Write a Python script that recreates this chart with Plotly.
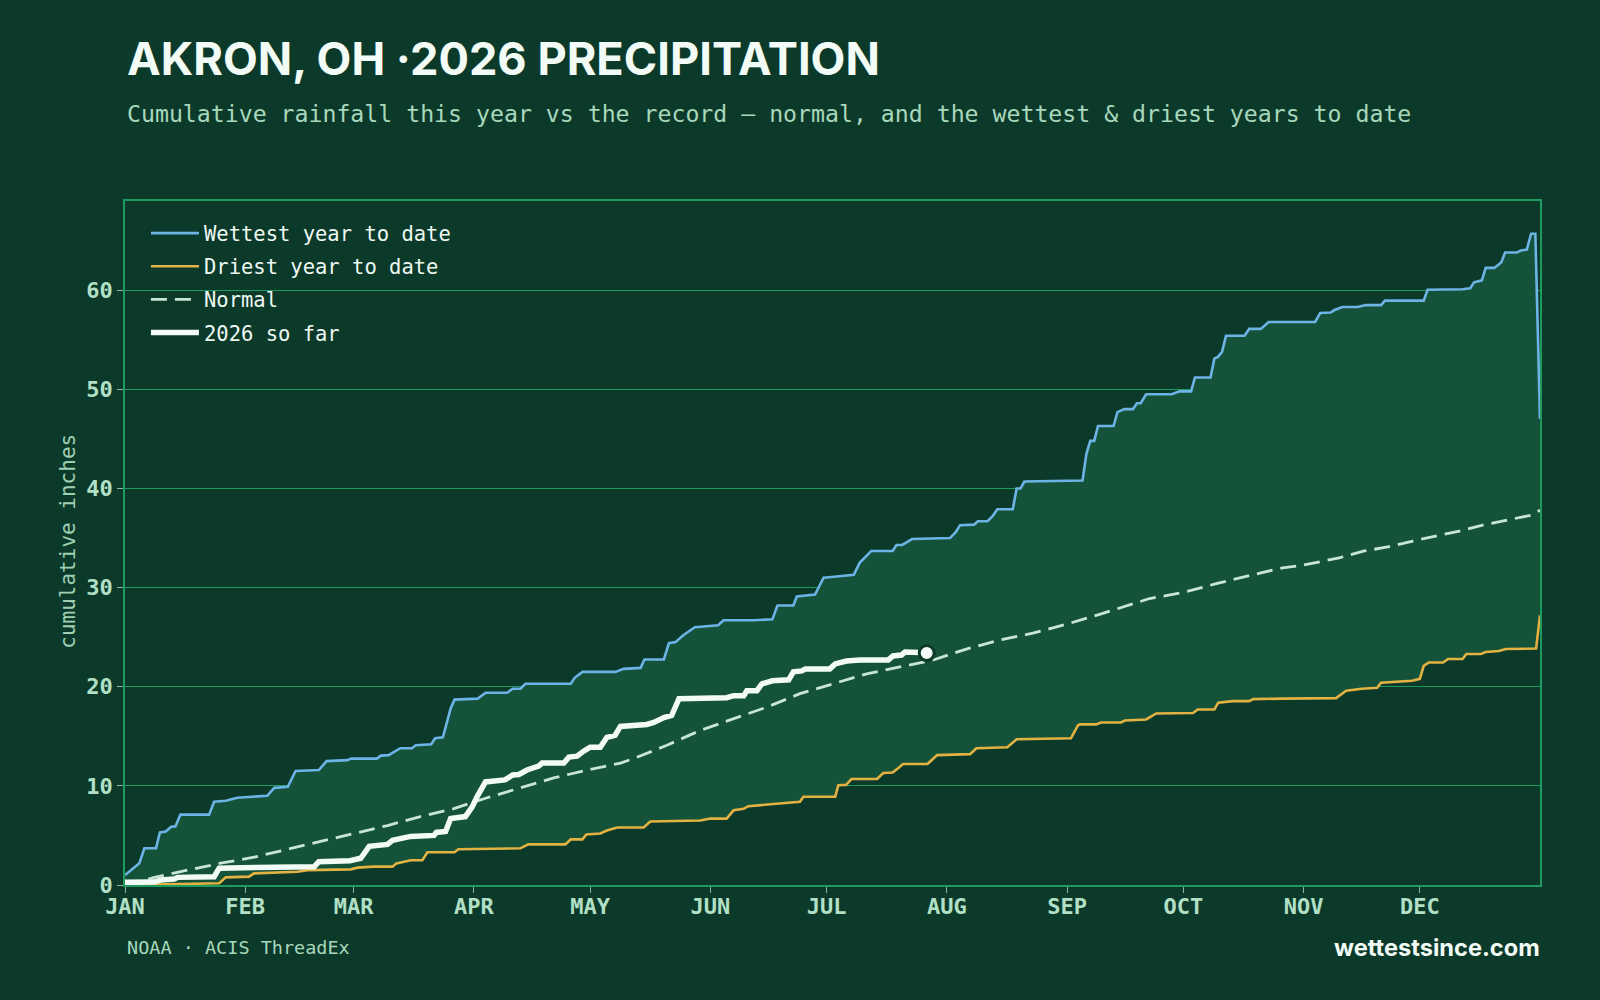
import plotly.graph_objects as go

# ---------------- data (day of year from Jan 1, cumulative inches) ----------------
wet_days = [0, 2, 3.7, 5, 8, 9, 10.5, 12, 13, 14.3, 21.7, 23, 26, 29, 32, 36.7, 38.5, 42, 44, 50,
            52, 57.4, 58.3, 65, 66, 68, 71, 74, 75, 79, 80, 82, 84, 85, 88, 91, 93, 98.6, 100, 102,
            103.3, 115, 116, 118, 126.5, 128.6, 133, 134, 139, 140.3, 142, 144, 147, 153, 154.4, 162,
            167, 168.3, 172.4, 173.3, 178, 180.2, 183, 188, 189.5, 192.5, 198, 199, 200.5, 203, 212.8,
            214.3, 215.4, 219, 220, 222.5, 223.8, 225, 229, 230, 231, 232, 247, 248, 249, 250, 251,
            255, 256, 257.8, 260, 261, 262, 263.4, 270, 272, 275, 276, 280, 281, 282, 283, 284, 288.8,
            290, 293, 295, 307, 308.3, 311, 312, 314, 318, 320, 324, 325, 335, 336, 345, 347, 348,
            350, 351, 353.2, 355, 356, 359, 360, 361.6, 362.7, 363.8, 365]
wet_vals = [1.0, 1.6, 2.2, 3.7, 3.7, 5.3, 5.4, 5.9, 5.9, 7.1, 7.1, 8.4, 8.5, 8.8, 8.9, 9.0, 9.8, 9.9, 11.5, 11.6,
            12.5, 12.6, 12.75, 12.75, 13.05, 13.1, 13.8, 13.8, 14.1, 14.2, 14.8, 14.9, 17.8, 18.7, 18.75, 18.8, 19.4, 19.4, 19.8, 19.8,
            20.3, 20.3, 20.9, 21.5, 21.5, 21.8, 21.9, 22.75, 22.75, 24.4, 24.5, 25.2, 26.0, 26.2, 26.7, 26.7,
            26.8, 28.2, 28.2, 29.1, 29.3, 31.0, 31.1, 31.3, 32.5, 33.7, 33.7, 34.3, 34.3, 34.9, 35.0,
            35.6, 36.3, 36.35, 36.7, 36.7, 37.2, 37.9, 37.9, 40.0, 40.0, 40.7, 40.8, 43.5, 44.8, 44.8, 46.3,
            46.3, 47.7, 48.0, 48.0, 48.6, 48.6, 49.5, 49.5, 49.8, 49.8, 51.2, 51.2, 53.1, 53.3, 53.8, 55.4, 55.4,
            56.1, 56.1, 56.8, 56.8, 57.7, 57.75, 58.0, 58.3, 58.3, 58.5, 58.5, 58.95, 58.95, 60.05, 60.1, 60.2, 60.8,
            61.0, 62.25, 62.25, 62.8, 63.8, 63.8, 64.0, 64.1, 65.7, 65.7, 47.0]

dry_days = [0, 10, 24.3, 26, 32, 33.3, 44.5, 47, 58.2, 60, 64, 69, 70, 72, 73.7, 76.7, 78, 85, 86, 102,
            104, 113.6, 115, 118, 119, 122.6, 124.3, 127, 133.8, 135.5, 148.4, 151, 155.2, 157, 159.6,
            160.8, 168, 174.1, 175, 183.2, 184, 186, 187.4, 194, 195.6, 198, 199.5, 200.7, 207, 209.5,
            218, 219.6, 227.6, 229, 230, 244, 245.8, 246.3, 250.5, 251.8, 257, 257.9, 263.4, 266, 275.5,
            276.7, 281, 282, 285.7, 290, 291, 298.6, 312.4, 315, 319, 323, 324, 332, 334, 335, 336.3,
            340, 341.3, 345, 346, 349.8, 351, 354.4, 356.2, 364, 365]
dry_vals = [0.0, 0.1, 0.17, 0.77, 0.84, 1.17, 1.34, 1.5, 1.58, 1.75, 1.85, 1.85, 2.18, 2.35, 2.5, 2.5, 3.3, 3.3, 3.6, 3.7,
            4.1, 4.1, 4.6, 4.6, 5.1, 5.2, 5.5, 5.8, 5.8, 6.4, 6.5, 6.7, 6.7, 7.55, 7.7,
            7.95, 8.2, 8.4, 8.9, 8.9, 10.07, 10.1, 10.7, 10.7, 11.3, 11.35, 11.8, 12.2, 12.2, 13.1,
            13.2, 13.8, 13.9, 14.4, 14.7, 14.8, 16.1, 16.2, 16.2, 16.4, 16.4, 16.6, 16.7, 17.3, 17.35,
            17.7, 17.7, 18.4, 18.55, 18.55, 18.75, 18.8, 18.85, 19.6, 19.8, 19.9, 20.4, 20.6, 20.8, 22.1, 22.45,
            22.45, 22.8, 22.8, 23.3, 23.3, 23.5, 23.6, 23.8, 23.85, 27.2]

norm_days = [0, 7.6, 16.1, 24.7, 33.3, 41.9, 50.5, 59, 67.7, 76.2, 84.8, 93.4, 102, 110.6, 119.2, 127.8,
             131.2, 139.8, 148.4, 157, 165.6, 174.1, 182.7, 191.3, 199.9, 208.5, 217, 225.6, 234.2,
             242.8, 251.4, 255.7, 264.3, 272.9, 281.5, 290, 298.6, 303, 313.2, 319.7, 325.7, 332.2,
             338.2, 344.2, 350.2, 356.6, 362.6, 365]
norm_vals = [0.0, 0.77, 1.5, 2.2, 2.8, 3.6, 4.4, 5.2, 6.0, 6.9, 7.7, 8.8, 9.8, 10.8, 11.6, 12.3,
             12.75, 14.1, 15.6, 16.8, 17.95, 19.3, 20.3, 21.3, 22.0, 22.7, 23.8, 24.7, 25.4,
             26.3, 27.3, 27.85, 28.9, 29.5, 30.4, 31.2, 32.0, 32.2, 33.0, 33.7, 34.1, 34.7,
             35.2, 35.7, 36.3, 36.8, 37.3, 37.8]

cur_days = [0, 7.5, 9.3, 12.7, 13.6, 23, 24.3, 48.8, 50, 58, 60.8, 63, 67.7, 69, 73.7, 79.7, 80.3, 82.7,
            84, 87.8, 89.6, 90.8, 93, 98, 100, 101.6, 103.7, 106.7, 107.6, 113.2, 114.5, 116.6, 118.3,
            120, 122.6, 124.3, 126.4, 127.8, 134.6, 136.4, 139, 141, 142.9, 155.2, 157, 159.6, 160.4,
            163, 164.3, 167, 171.2, 172.4, 174.6, 175.5, 181.8, 183.2, 186.1, 189.6, 196.9, 198.1,
            200.3, 201.2, 205, 206.8]
cur_vals = [0.27, 0.3, 0.5, 0.6, 0.77, 0.84, 1.7, 1.85, 2.35, 2.45, 2.7, 3.9, 4.1, 4.5, 4.9, 5.0, 5.3, 5.4,
            6.7, 6.9, 7.9, 8.9, 10.4, 10.6, 11.1, 11.15, 11.6, 12.0, 12.3, 12.3, 12.9, 13.0, 13.5,
            13.9, 13.9, 14.9, 15.1, 16.0, 16.2, 16.4, 16.9, 17.1, 18.8, 18.9, 19.1, 19.1, 19.6,
            19.6, 20.3, 20.6, 20.7, 21.5, 21.6, 21.8, 21.8, 22.3, 22.6, 22.7, 22.7, 23.1,
            23.2, 23.5, 23.45, 23.4]

month_days = [0, 31, 59, 90, 120, 151, 181, 212, 243, 273, 304, 334]
month_labels = ["JAN", "FEB", "MAR", "APR", "MAY", "JUN", "JUL", "AUG", "SEP", "OCT", "NOV", "DEC"]
y_ticks = [0, 10, 20, 30, 40, 50, 60]

# ---------------- style ----------------
BG = "#0c3a2a"
BAND = "#145239"
GRID = "#1f9a5e"
BLUE = "#6db3e6"
GOLD = "#e2b243"
NORMAL = "#c8e6d4"
WHITE = "#f3fbf6"
MINT = "#a8d8bc"
MONO = "DejaVu Sans Mono"
SANS = "Inter, Roboto, 'Open Sans', sans-serif"

fig = go.Figure()

# band between driest and wettest
fig.add_trace(go.Scatter(x=dry_days, y=dry_vals, mode="lines", line=dict(width=0, color=BAND),
                         showlegend=False, hoverinfo="skip", legendgroup="band"))
fig.add_trace(go.Scatter(x=wet_days, y=wet_vals, mode="lines", line=dict(width=0, color=BAND),
                         fill="tonexty", fillcolor=BAND, showlegend=False, hoverinfo="skip",
                         legendgroup="band"))

fig.add_trace(go.Scatter(x=wet_days, y=wet_vals, mode="lines", name="Wettest year to date",
                         legendgroup="g1", line=dict(color=BLUE, width=2.6)))
fig.add_trace(go.Scatter(x=dry_days, y=dry_vals, mode="lines", name="Driest year to date",
                         legendgroup="g2", line=dict(color=GOLD, width=2.6)))
fig.add_trace(go.Scatter(x=norm_days, y=norm_vals, mode="lines", name="Normal",
                         legendgroup="g3", line=dict(color=NORMAL, width=2.8, dash="16px,8px")))
fig.add_trace(go.Scatter(x=cur_days, y=cur_vals, mode="lines", name="2026 so far",
                         legendgroup="g4", line=dict(color=WHITE, width=5.5)))
fig.add_trace(go.Scatter(x=[cur_days[-1]], y=[cur_vals[-1]], mode="markers", showlegend=False,
                         legendgroup="g4",
                         marker=dict(size=15, color=WHITE, line=dict(color=BG, width=3))))

fig.update_layout(
    width=1600, height=1000,
    paper_bgcolor=BG, plot_bgcolor=BG,
    margin=dict(l=125, r=60, t=201, b=115),
    showlegend=True,
    legend=dict(x=0.0148, y=0.982, xanchor="left", yanchor="top", bgcolor="rgba(0,0,0,0)",
                font=dict(family=MONO, size=20.5, color="#eef8f2"), traceorder="grouped",
                tracegroupgap=3.5, itemwidth=48),
    font=dict(family=MONO, color=MINT),
)

fig.update_xaxes(range=[0, 365], tickmode="array", tickvals=month_days, ticktext=month_labels,
                 showgrid=False, zeroline=False, showline=True, mirror=True, linecolor=GRID, linewidth=1.5,
                 ticks="outside", ticklen=6, tickcolor="#8fb3a0", tickwidth=1, ticklabelstandoff=-5,
                 tickfont=dict(family=MONO, size=22, color="#b2e0c6", weight="bold"))
fig.update_yaxes(range=[0, 69], tickmode="array", tickvals=y_ticks,
                 showgrid=True, gridcolor=GRID, gridwidth=1.3, zeroline=False,
                 showline=True, mirror=True, linecolor=GRID, linewidth=1.5,
                 ticks="outside", ticklen=6, tickcolor="#8fb3a0", tickwidth=1,
                 tickfont=dict(family=MONO, size=22, color="#b2e0c6", weight="bold"))

annos = [
    dict(text="<b>AKRON, OH ·2026 PRECIPITATION</b>", x=0, y=1.2088, xanchor="left", yanchor="middle",
         font=dict(family=SANS, size=45.2, color="#f2fbf5")),
    dict(text="Cumulative rainfall this year vs the record — normal, and the wettest & driest years to date",
         x=0, y=1.1279, xanchor="left", yanchor="middle", font=dict(family=MONO, size=23.2, color=MINT)),
    dict(text="cumulative inches", x=-0.0402, y=0.502, textangle=-90, xanchor="center", yanchor="middle",
         font=dict(family=MONO, size=21, color="#9fcfb3")),
    dict(text="NOAA · ACIS ThreadEx", x=0, y=-0.092, xanchor="left", yanchor="middle",
         font=dict(family=MONO, size=18.5, color=MINT)),
    dict(text="<b>wettestsince.com</b>", x=1.0015, y=-0.092, xanchor="right", yanchor="middle",
         font=dict(family=SANS, size=23.6, color="#f2fbf5")),
]
for a in annos:
    a.update(xref="paper", yref="paper", showarrow=False)
fig.update_layout(annotations=annos)

fig.write_html("out.html")
